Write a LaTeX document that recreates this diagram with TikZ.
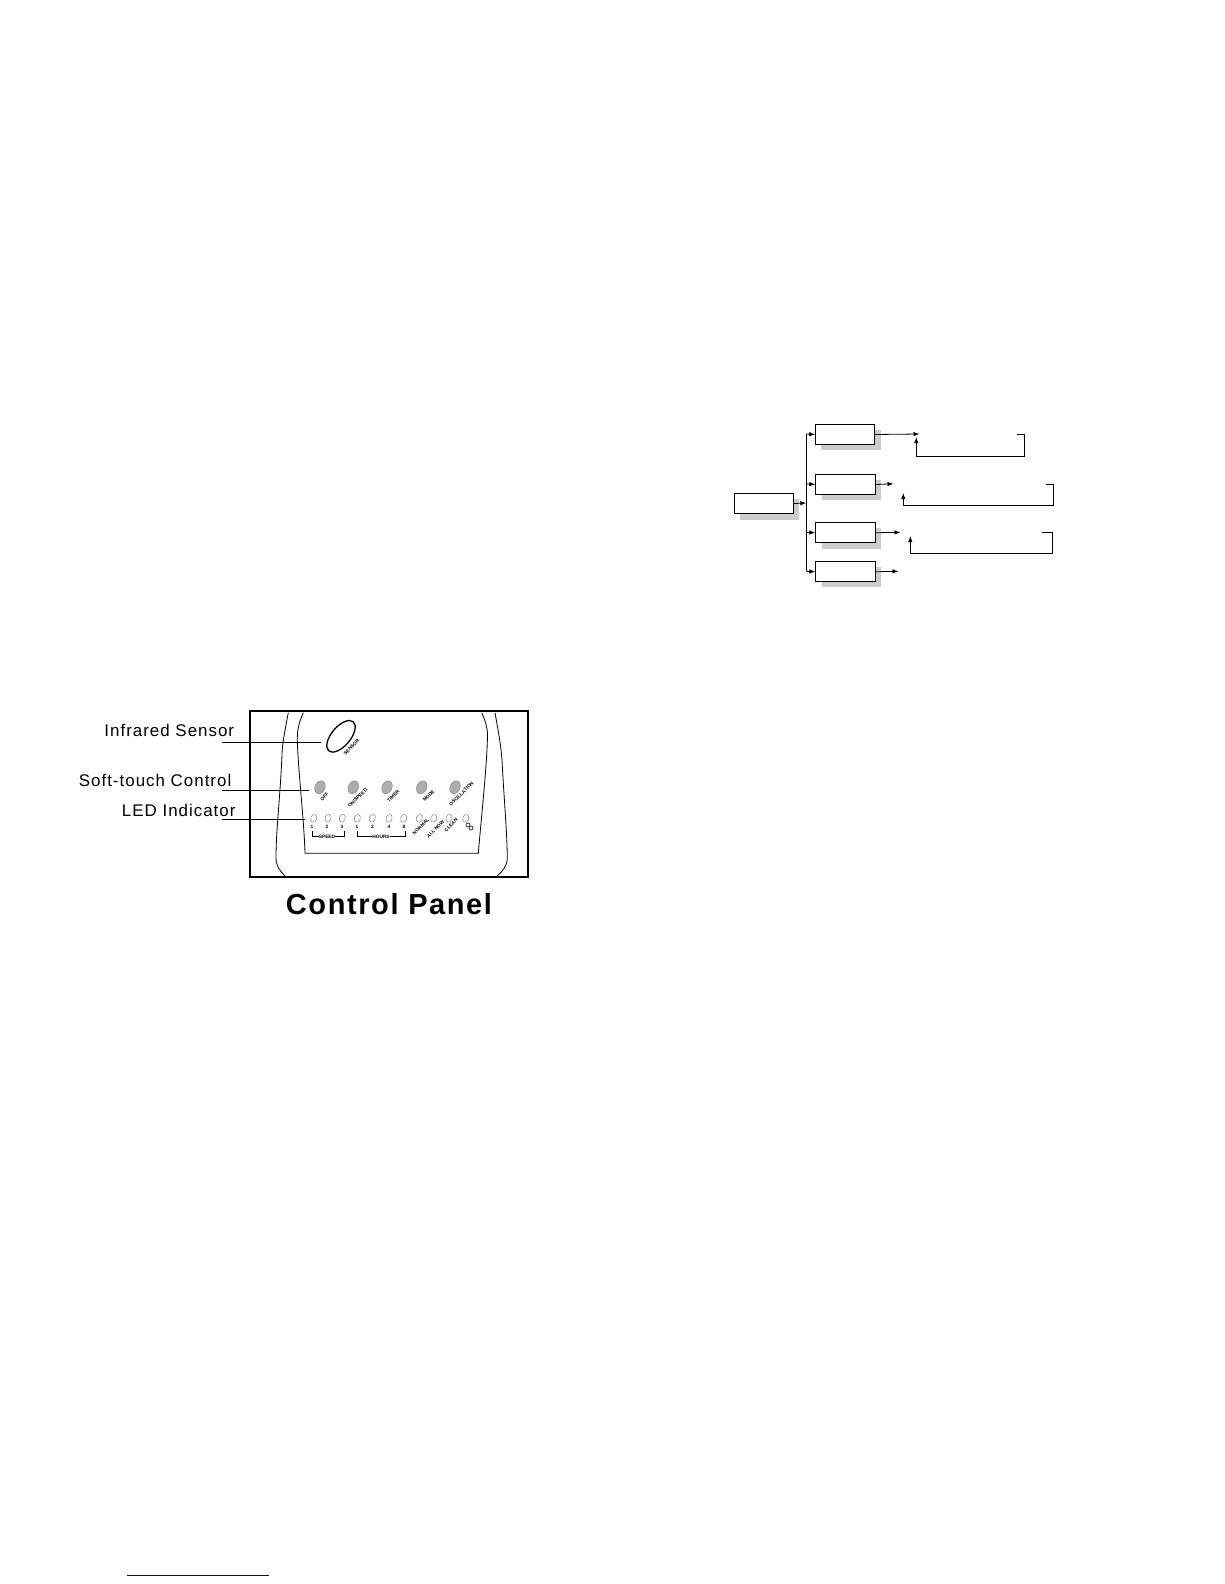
\documentclass[tikz,border=0pt]{standalone}
\usepackage{fontspec}
\setmainfont{Liberation Sans}
\newfontfamily\lblfont[LetterSpace=6]{Liberation Sans}
\newfontfamily\ttlfont[LetterSpace=5.5]{Liberation Sans}
\newcommand\onspeedtxt{ON/SPEED}
\definecolor{shade}{gray}{0.8}
\definecolor{btn}{gray}{0.68}
\definecolor{navyline}{RGB}{0,0,139}
\usetikzlibrary{arrows.meta,shapes.geometric}
\tikzset{
  x=1pt,y=-1pt,
  fbox/.style={draw=black,line width=0.9pt,fill=white,inner sep=0,minimum width=#1,minimum height=19.5pt},
  shad/.style={fill=shade,draw=none},
  conn/.style={draw=black,line width=0.8pt,-{Latex[length=6pt,width=4.4pt]}},
  plain/.style={draw=black,line width=0.8pt},
  lead/.style={draw=black,line width=0.7pt},
  lbl/.style={inner sep=0,anchor=base east,font=\lblfont\fontsize{16.9}{19}\selectfont},
  tiny/.style={inner sep=0,rotate=45,font=\bfseries\fontsize{4.8}{5}\selectfont},
  tinyf/.style={inner sep=0,font=\bfseries\fontsize{4.8}{5}\selectfont},
  led/.style={draw=gray,line width=0.5pt,fill=white,ellipse,rotate=70,minimum width=8pt,minimum height=6pt,inner sep=0},
  butn/.style={draw=gray,line width=0.4pt,fill=btn,ellipse,rotate=65,minimum width=13.5pt,minimum height=10pt,inner sep=0},
  outline/.style={draw=black,line width=0.8pt},
}
\begin{document}
\begin{tikzpicture}
\useasboundingbox (0,0) rectangle (1224,1584);
\fill[white] (0,0) rectangle (1224,1584);

% ---------- flow chart (right) ----------
\fill[shad] (740,499) rectangle (799,520);
\fill[shad] (821,430) rectangle (881,450);
\fill[shad] (822,480) rectangle (881,500);
\fill[shad] (822,528) rectangle (881,549);
\fill[shad] (822,567) rectangle (881,587);

\node[fbox=58.4pt,anchor=north west] (m) at (734.3,493.3) {};
\node[fbox=58.4pt,anchor=north west] (b1) at (815.3,424.3) {};
\node[fbox=59.4pt,anchor=north west] (b2) at (815.3,474.3) {};
\node[fbox=59.4pt,anchor=north west,minimum height=20pt] (b3) at (815.3,522.3) {};
\node[fbox=59.4pt,anchor=north west,minimum height=20pt] (b4) at (815.3,561.3) {};

\coordinate (t) at (806.3,503);
\coordinate (e1) at (919.5,434);
\coordinate (e2) at (893.5,483.8);
\coordinate (e3) at (900.5,532.3);
\coordinate (e4) at (898.5,571.3);
\draw[conn] (m.east) -- (t);
\draw[plain] (806.3,434) -- (806.3,571.3);
\draw[conn] (806.3,434) -- (b1.west);
\draw[conn] (806.3,483.8) -- (b2.west);
\draw[conn] (806.3,532.3) -- (b3.west);
\draw[conn] (806.3,571.3) -- (b4.west);
\draw[conn] (b1.east) -- (e1);
\draw[conn] (b2.east) -- (e2);
\draw[conn] (b3.east) -- (e3);
\draw[conn] (b4.east) -- (e4);
\coordinate (l1) at (1017,434);
\coordinate (l1e) at (916.3,437);
\draw[conn] (l1) -- (1024.3,434) -- (1024.3,456.3) -- (916.3,456.3) -- (l1e);
\coordinate (l2) at (1045.7,484.3);
\coordinate (l2e) at (903.3,493);
\draw[conn] (l2) -- (1053.3,484.3) -- (1053.3,505.3) -- (903.3,505.3) -- (l2e);
\coordinate (l3) at (1042,532.3);
\coordinate (l3e) at (910.3,536);
\draw[conn] (l3) -- (1052.7,532.3) -- (1052.7,553.3) -- (910.3,553.3) -- (l3e);

% ---------- control panel ----------
\draw[outline] (288.3,712.7) .. controls (285,730) and (282,745) .. (282,755) .. controls (280,800) and (276,830) .. (276,858) .. controls (276,866) and (280,871) .. (285,876);
\draw[outline] (303.3,712.7) .. controls (299,722) and (297,730) .. (297.3,742) .. controls (299,780) and (304,820) .. (305,853.3) -- (478.3,853.3) .. controls (482,810) and (487,765) .. (487.5,735) .. controls (487.5,727) and (485,720) .. (481.7,712.7);
\draw[outline] (495,712.7) .. controls (498,730) and (501,745) .. (502,760) .. controls (504,800) and (507,830) .. (507.3,858) .. controls (507,866) and (503,871) .. (497,876);
\draw[black,line width=2.2pt] (250,711) rectangle (528.3,877.3);

\node[draw=black,line width=1.3pt,ellipse,rotate=50,minimum width=38pt,minimum height=19pt,inner sep=0] (sensor) at (341,736.3) {};
\node[tiny] (sensortxt) at (351.5,747) {SENSOR};

\foreach \n/\x/\t/\lx/\ly in {a/320/OFF/324.5/797, b/353.3/\onspeedtxt/357.5/798, c/387/TIMER/393.3/795.7, d/421.7/MODE/428.7/795.7, e/455/OSCILLATION/461.3/794}{
  \node[butn] (btn\n) at (\x,787.3) {};
  \node[tiny] (btxt\n) at (\lx,\ly) {\t};
}
\foreach \n/\x in {a/313.7,b/328,c/342.3,d/357.3,e/372.3,f/389,g/403.7,h/419.3,i/433.7,j/449,k/465.7}{
  \node[led] (led\n) at (\x,818.3) {};
}
\foreach \n/\x/\t in {a/312/1,b/327/2,c/342/3,d/357/1,e/372.5/2,f/389/4,g/404/8}{
  \node[tinyf] (num\n) at (\x,826.8) {\t};
}
\node[tiny] (nnorm) at (421,826.5) {NORMAL};
\node[tiny] (nall) at (435.5,829) {ALL NOW};
\node[tiny] (nclean) at (451,825) {CLEAN};
\node[draw=black,line width=0.6pt,circle,minimum size=4pt,inner sep=0] (ic1) at (468,825) {};
\node[draw=black,line width=0.6pt,circle,minimum size=4pt,inner sep=0] (ic2) at (471,828) {};

\node[tinyf] (speed) at (327,836.7) {SPEED};
\node[tinyf] (hours) at (381,836.7) {HOURS};
\draw[lead,line width=0.6pt] (speed.west) -- (312.3,836.7) -- (312.3,830.5);
\draw[lead,line width=0.6pt] (speed.east) -- (344,836.7) -- (344,830.5);
\draw[lead,line width=0.6pt] (hours.west) -- (357,836.7) -- (357,830.5);
\draw[lead,line width=0.6pt] (hours.east) -- (405,836.7) -- (405,830.5);

% labels
\node[lbl] (t1) at (234.3,736.7) {Infrared Sensor};
\node[lbl] (t2) at (231.5,786) {Soft-touch Control};
\node[lbl] (t3) at (235.7,816) {LED Indicator};
\coordinate (c1) at (222.3,742.3);
\coordinate (c2) at (222.3,790);
\coordinate (c3) at (222.3,819.3);
\draw[lead] (c1) -- (321,742.3);
\draw[lead] (c2) -- (309.3,790);
\draw[lead] (c3) -- (305,819.3);

\node[inner sep=0,anchor=base,font=\ttlfont\bfseries\fontsize{29}{32}\selectfont] (title) at (389,914.3) {Control Panel};

% footer rule
\draw[navyline,line width=1pt] (127,1575) -- (268.7,1575);
\end{tikzpicture}
\end{document}
